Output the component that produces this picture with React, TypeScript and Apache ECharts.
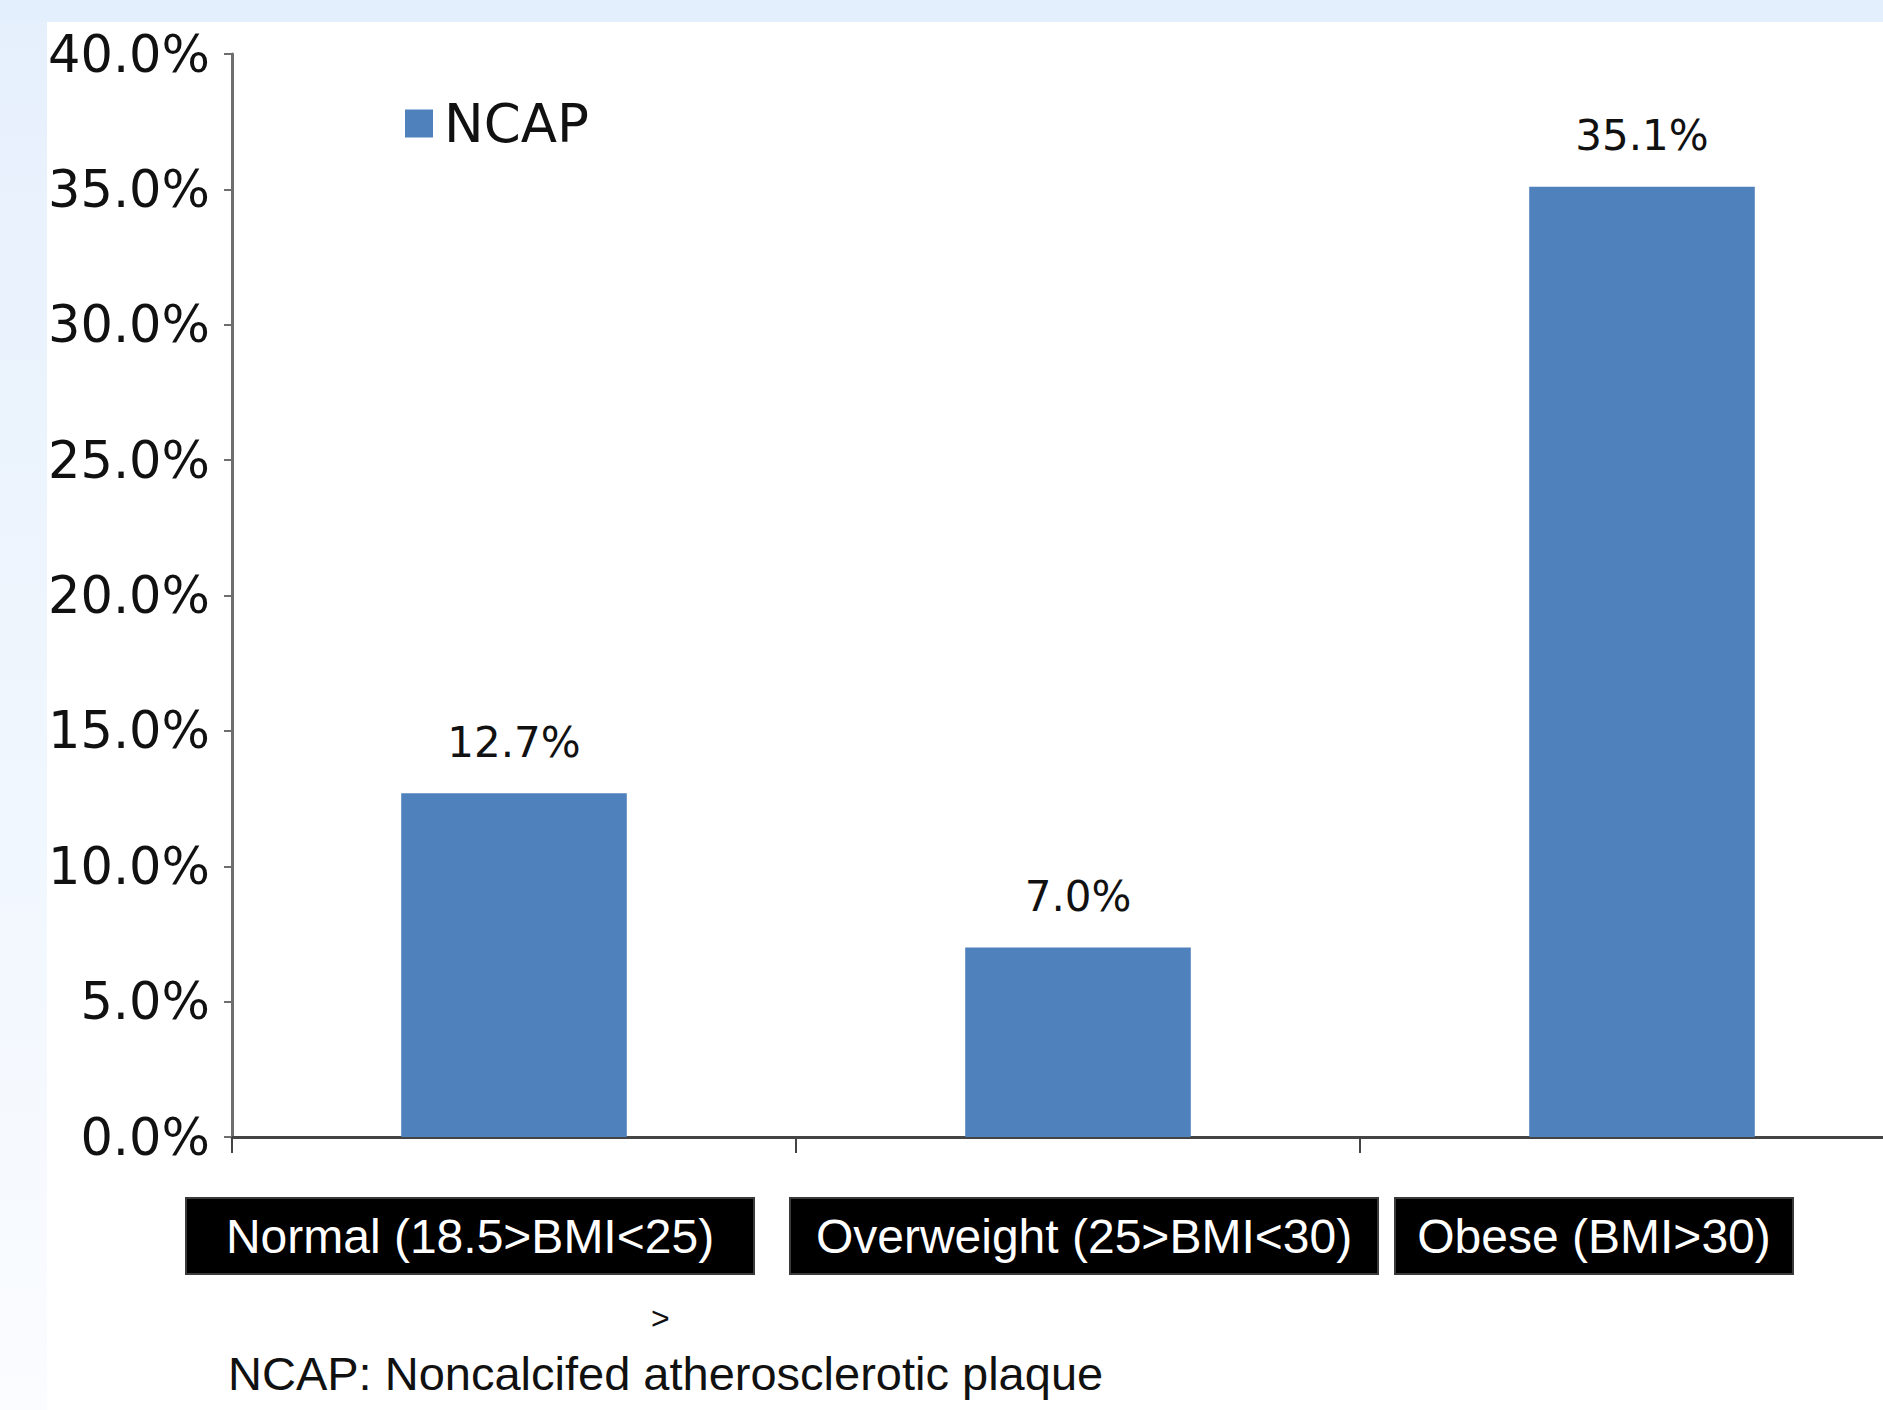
import React, { useEffect, useRef } from "react";
import * as echarts from "echarts";

const categories = ["Normal (18.5>BMI<25)", "Overweight (25>BMI<30)", "Obese (BMI>30)"];
const seriesName = "NCAP";
const ncapValues = [12.7, 7.0, 35.1];
const yTicks = { min: 0, max: 40, interval: 5 };
const footnote = "NCAP: Noncalcifed atherosclerotic plaque";
const stray = ">";

// per-label box widths and offsets (layout only)
const boxWidths = [566, 586, 396];
const spacerLeft = [0, 12, 0];
const spacerRight = [88, 0, 96];

export default function App() {
  const ref = useRef<HTMLDivElement>(null);
  useEffect(() => {
    document.body.style.margin = "0";
    const chart = echarts.init(ref.current!, null, { renderer: "svg" });
    const rich: any = {};
    categories.forEach((_, i) => {
      rich["b" + i] = {
        color: "#ffffff",
        fontFamily: "Liberation Sans",
        fontSize: 48,
        backgroundColor: "#000000",
        borderColor: "#3a3a3a",
        borderWidth: 2,
        width: boxWidths[i],
        height: 50,
        lineHeight: 50,
        align: "center",
        padding: [12, 0, 12, 0],
      };
      rich["l" + i] = { width: spacerLeft[i], height: 10, fontSize: 10, color: "transparent" };
      rich["r" + i] = { width: spacerRight[i], height: 10, fontSize: 10, color: "transparent" };
    });
    chart.setOption({
      animation: false,
      backgroundColor: "#ffffff",
      graphic: [
        { type: "rect", z: -10, silent: true, shape: { x: 0, y: 0, width: 1960, height: 22 }, style: { fill: "#e3effc" } },
        {
          type: "rect", z: -10, silent: true, shape: { x: 0, y: 22, width: 47, height: 1388 },
          style: {
            fill: new echarts.graphic.LinearGradient(0, 0, 0, 1, [
              { offset: 0, color: "#e6f0fc" },
              { offset: 0.6, color: "#f1f7fe" },
              { offset: 1, color: "#fafcff" },
            ]),
          },
        },
        {
          type: "text", left: 651, top: 1302,
          style: { text: stray, fontFamily: "Liberation Sans", fontSize: 32, fill: "#111" },
        },
        {
          type: "text", left: 228, top: 1350,
          style: { text: footnote, fontFamily: "Liberation Sans", fontSize: 47, fill: "#111" },
        },
      ],
      legend: {
        show: true,
        left: 405,
        top: 97,
        padding: 0,
        icon: "rect",
        itemWidth: 28,
        itemHeight: 28,
        itemGap: 10,
        textStyle: { fontFamily: "DejaVu Sans", fontSize: 53, color: "#111", padding: [0, 0, 0, 6] },
        data: [seriesName],
      },
      grid: { left: 232, top: 54, width: 1692, bottom: 273 },
      xAxis: {
        type: "category",
        data: categories,
        axisLine: { show: true, lineStyle: { color: "#444", width: 3 } },
        axisTick: { show: true, length: 16, lineStyle: { color: "#444", width: 2 } },
        axisLabel: {
          interval: 0,
          margin: 74,
          formatter: (v: string, i: number) => `{l${i}| }{b${i}|${v}}{r${i}| }`,
          rich,
        },
        splitLine: { show: false },
      },
      yAxis: {
        type: "value",
        min: yTicks.min,
        max: yTicks.max,
        interval: yTicks.interval,
        axisLine: { show: true, lineStyle: { color: "#6e6e6e", width: 3 } },
        axisTick: { show: true, length: 8, lineStyle: { color: "#6e6e6e", width: 2 } },
        splitLine: { show: false },
        axisLabel: {
          margin: 22,
          fontFamily: "DejaVu Sans",
          fontSize: 51,
          color: "#111",
          formatter: (v: number) => `${v.toFixed(1)}%`,
        },
      },
      series: [
        {
          name: seriesName,
          type: "bar",
          data: ncapValues,
          barWidth: "40%",
          itemStyle: { color: "#4f81bd" },
          label: {
            show: true,
            position: "top",
            distance: 30,
            fontFamily: "DejaVu Sans",
            fontSize: 42,
            color: "#111",
            formatter: (p: any) => `${Number(p.value).toFixed(1)}%`,
          },
        },
      ],
    });
    return () => chart.dispose();
  }, []);
  return (
    <div style={{ width: 1883, height: 1410, overflow: "hidden", position: "relative" }}>
      <div ref={ref} style={{ width: 1960, height: 1410 }} />
    </div>
  );
}
